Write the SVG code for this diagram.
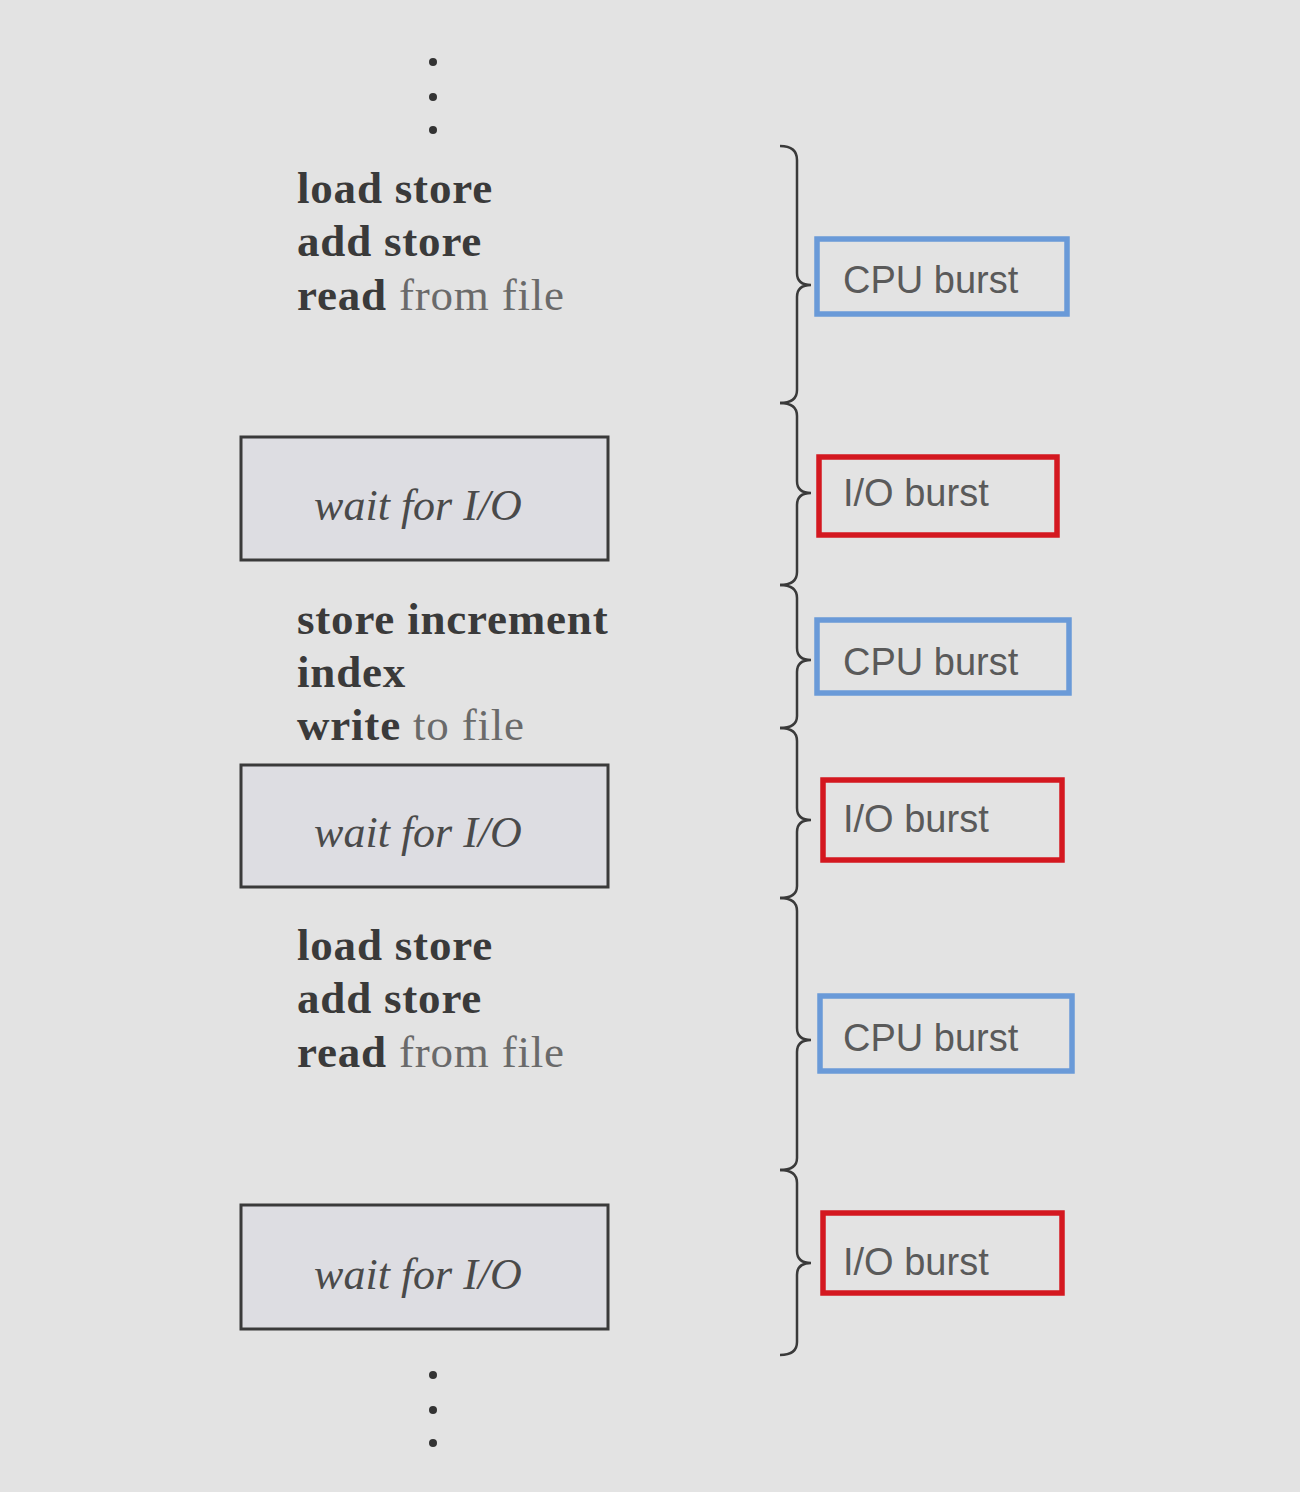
<svg xmlns="http://www.w3.org/2000/svg" width="1300" height="1492" viewBox="0 0 1300 1492">
<style>
.code{font-family:"Liberation Serif",serif;font-size:45px;font-weight:bold;fill:#3a3a3a;letter-spacing:0.8px}
.lt{font-weight:normal;fill:#6a6a6a}
.wait{font-family:"Liberation Serif",serif;font-size:44px;font-style:italic;fill:#4a4a4a}
.wbox{fill:#dddde2;stroke:#3a3a3a;stroke-width:3}
.cpu{fill:none;stroke:#6a9ad8;stroke-width:5.5}
.io{fill:none;stroke:#d41820;stroke-width:5.5}
.lbl{font-family:"Liberation Sans",Arial,sans-serif;font-size:38px;fill:#5a5a5a}
.brace{fill:none;stroke:#3a3a3a;stroke-width:2.5}
.dot{fill:#333}
</style>
<rect width="1300" height="1492" fill="#e3e3e3"/>
<g id="dots-top"><circle class="dot" cx="433" cy="62" r="4"/><circle class="dot" cx="433" cy="97" r="4"/><circle class="dot" cx="433" cy="130" r="4"/></g>
<g id="dots-bottom"><circle class="dot" cx="433" cy="1375" r="4"/><circle class="dot" cx="433" cy="1410" r="4"/><circle class="dot" cx="433" cy="1443" r="4"/></g>
<g id="code1"><text class="code" x="297" y="203">load store</text><text class="code" x="297" y="256">add store</text><text class="code" x="297" y="310">read <tspan class="lt">from file</tspan></text></g>
<g id="wait1"><rect class="wbox" x="241" y="437" width="367" height="123"/><text class="wait" x="418" y="520" text-anchor="middle">wait for I/O</text></g>
<g id="code2"><text class="code" x="297" y="634">store increment</text><text class="code" x="297" y="687">index</text><text class="code" x="297" y="740">write <tspan class="lt">to file</tspan></text></g>
<g id="wait2"><rect class="wbox" x="241" y="765" width="367" height="122"/><text class="wait" x="418" y="847" text-anchor="middle">wait for I/O</text></g>
<g id="code3"><text class="code" x="297" y="960">load store</text><text class="code" x="297" y="1013">add store</text><text class="code" x="297" y="1067">read <tspan class="lt">from file</tspan></text></g>
<g id="wait3"><rect class="wbox" x="241" y="1205" width="367" height="124"/><text class="wait" x="418" y="1289" text-anchor="middle">wait for I/O</text></g>
<g id="connectors">
<path class="brace" d="M780,146 Q797,146 797,160 L797,273 Q797,285 811,285 Q797,285 797,297 L797,390 Q797,403 780,403"/>
<path class="brace" d="M780,403 Q797,403 797,416 L797,481 Q797,493 811,493 Q797,493 797,505 L797,572 Q797,585 780,585"/>
<path class="brace" d="M780,585 Q797,585 797,598 L797,648 Q797,660 811,660 Q797,660 797,672 L797,716 Q797,728 780,728"/>
<path class="brace" d="M780,728 Q797,728 797,741 L797,808 Q797,820 811,820 Q797,820 797,832 L797,886 Q797,898 780,898"/>
<path class="brace" d="M780,898 Q797,898 797,911 L797,1028 Q797,1040 811,1040 Q797,1040 797,1052 L797,1158 Q797,1170 780,1170"/>
<path class="brace" d="M780,1170 Q797,1170 797,1183 L797,1251 Q797,1263 811,1263 Q797,1263 797,1275 L797,1342 Q797,1355 780,1355"/>
</g>
<g id="cpu1"><rect class="cpu" x="817" y="239" width="250" height="75"/><text class="lbl" x="843" y="293">CPU burst</text></g>
<g id="io1"><rect class="io" x="819" y="457" width="238" height="78"/><text class="lbl" x="843" y="506">I/O burst</text></g>
<g id="cpu2"><rect class="cpu" x="817" y="620" width="252" height="73"/><text class="lbl" x="843" y="675">CPU burst</text></g>
<g id="io2"><rect class="io" x="823" y="780" width="239" height="80"/><text class="lbl" x="843" y="832">I/O burst</text></g>
<g id="cpu3"><rect class="cpu" x="820" y="996" width="252" height="75"/><text class="lbl" x="843" y="1051">CPU burst</text></g>
<g id="io3"><rect class="io" x="823" y="1213" width="239" height="80"/><text class="lbl" x="843" y="1275">I/O burst</text></g>
</svg>
